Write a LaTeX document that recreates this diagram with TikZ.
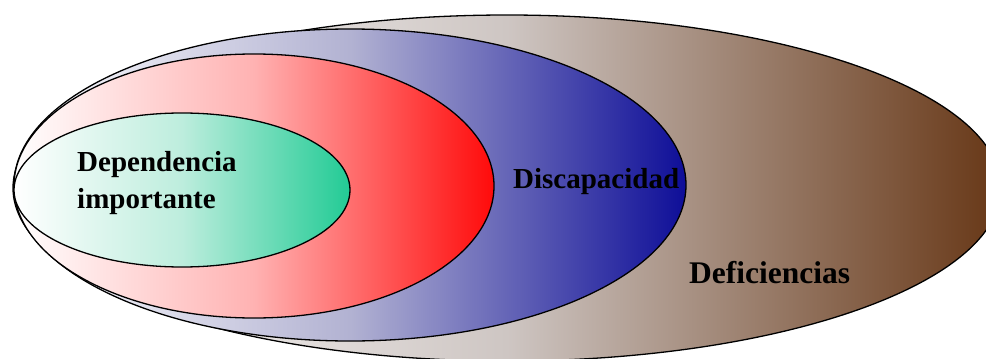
\documentclass[tikz,border=0pt]{standalone}
\usepackage{fontspec}
\setmainfont{Liberation Serif}[Ligatures=NoCommon]
\definecolor{defbrown}{HTML}{673716}
\definecolor{defmid}{HTML}{CEC6C3}
\definecolor{disblue}{HTML}{0E0E98}
\definecolor{dismid}{HTML}{B2B2D2}
\definecolor{depred}{HTML}{FF0A0A}
\definecolor{depredmid}{HTML}{FFB2B2}
\definecolor{depgreen}{HTML}{22CB95}
\definecolor{depgreenmid}{HTML}{BDEDDD}
\begin{document}
\begin{tikzpicture}[x=1pt,y=-1pt,
  ell/.style={draw=black,line width=1.3pt},
  lbl/.style={font=\fontsize{29}{36}\selectfont\bfseries,inner sep=0pt,anchor=base west,text=black}]
\useasboundingbox (0,0) rectangle (986,359);
\clip (0,0) rectangle (986,359);
\path[ell,left color=white,right color=defbrown,middle color=defmid] (507,188) ellipse [x radius=494, y radius=173];
\path[ell,left color=white,right color=disblue,middle color=dismid] (350,185) ellipse [x radius=336, y radius=156];
\path[ell,left color=white,right color=depred,middle color=depredmid] (254,186) ellipse [x radius=240, y radius=132];
\path[ell,left color=white,right color=depgreen,middle color=depgreenmid] (182,190) ellipse [x radius=168, y radius=77];
\node[lbl] (dep) at (77,171) {Dependencia};
\node[lbl] (imp) at (77,208) {importante};
\node[lbl] (dis) at (513,188) {Discapacidad};
\node[lbl,font=\fontsize{31.5}{36}\selectfont\bfseries] (def) at (689,283) {Deficiencias};
\end{tikzpicture}
\end{document}
